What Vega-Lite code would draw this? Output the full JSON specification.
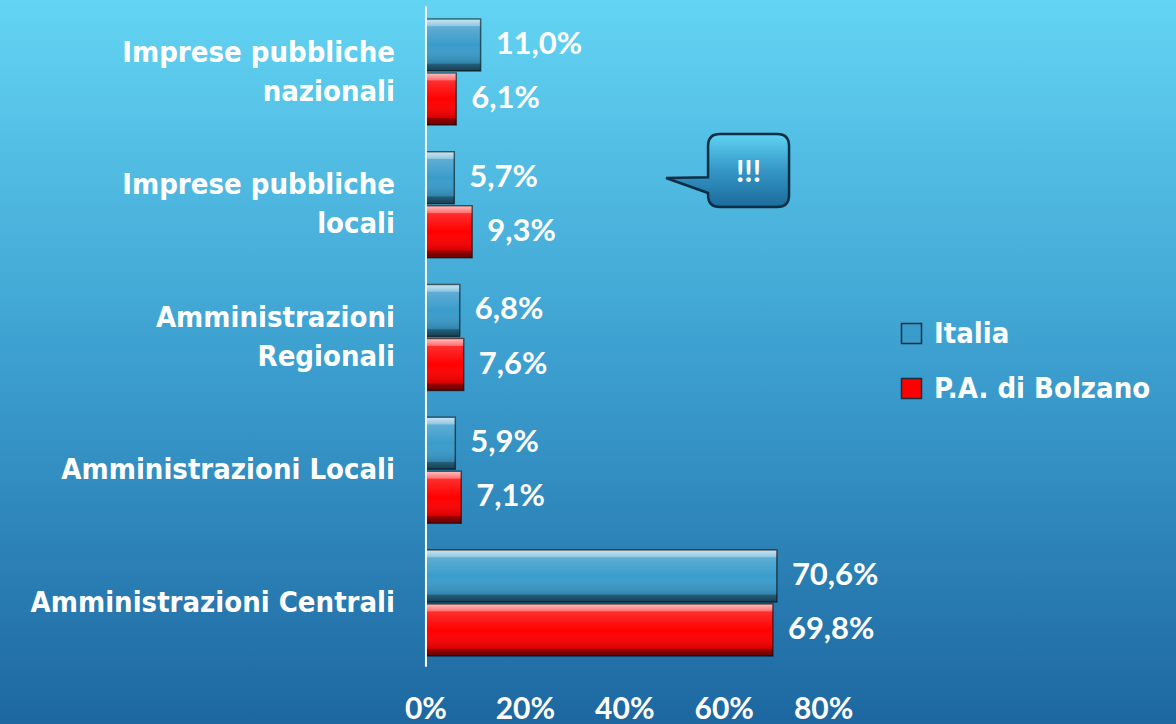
{
  "$schema": "https://vega.github.io/schema/vega-lite/v6.json",
  "width": 1176,
  "height": 724,
  "autosize": {"type": "pad"},
  "padding": 0,
  "background": "#1d67a0",
  "view": {
    "stroke": null,
    "fill": {
      "gradient": "linear",
      "x1": 0, "y1": 0, "x2": 0, "y2": 1,
      "stops": [
        {"offset": 0, "color": "#63d4f3"},
        {"offset": 0.5, "color": "#3c9fcf"},
        {"offset": 1, "color": "#1d67a0"}
      ]
    }
  },
  "config": {
    "locale": {"number": {"decimal": ",", "thousands": ".", "grouping": [3], "currency": ["", " €"]}},
    "legend": {"padding": 0}
  },
  "datasets": {
    "bars": [
      {"cat": "Imprese pubbliche\nnazionali", "series": "Italia", "value": 0.110},
      {"cat": "Imprese pubbliche\nnazionali", "series": "P.A. di Bolzano", "value": 0.061},
      {"cat": "Imprese pubbliche\nlocali", "series": "Italia", "value": 0.057},
      {"cat": "Imprese pubbliche\nlocali", "series": "P.A. di Bolzano", "value": 0.093},
      {"cat": "Amministrazioni\nRegionali", "series": "Italia", "value": 0.068},
      {"cat": "Amministrazioni\nRegionali", "series": "P.A. di Bolzano", "value": 0.076},
      {"cat": "Amministrazioni Locali", "series": "Italia", "value": 0.059},
      {"cat": "Amministrazioni Locali", "series": "P.A. di Bolzano", "value": 0.071},
      {"cat": "Amministrazioni Centrali", "series": "Italia", "value": 0.706},
      {"cat": "Amministrazioni Centrali", "series": "P.A. di Bolzano", "value": 0.698}
    ],
    "ticks": [{"tick": 0}, {"tick": 0.2}, {"tick": 0.4}, {"tick": 0.6}, {"tick": 0.8}],
    "callout": [{"x": 0.649, "cat": "Imprese pubbliche\nlocali", "series": "Italia", "text": "!!!"}]
  },
  "encoding": {
    "y": {"field": "cat", "type": "nominal", "axis": null, "sort": null,
      "scale": {"type": "band", "domain": ["Imprese pubbliche\nnazionali", "Imprese pubbliche\nlocali", "Amministrazioni\nRegionali", "Amministrazioni Locali", "Amministrazioni Centrali"], "paddingInner": 0.2, "paddingOuter": 0.327, "align": 0.218}}
  },
  "layer": [
    {
      "data": {"name": "bars"},
      "mark": {"type": "bar"},
      "encoding": {
        "yOffset": {"field": "series", "type": "nominal", "scale": {"domain": ["Italia", "P.A. di Bolzano"], "paddingInner": 0.04, "paddingOuter": 0}},
        "x": {"field": "value", "type": "quantitative", "axis": null,
          "scale": {"domain": [-0.857, 1.509], "nice": false, "zero": false}},
        "color": {"field": "series", "type": "nominal",
          "scale": {"domain": ["Italia", "P.A. di Bolzano"], "range": ["#3a9ccb", "#ff0000"]},
          "legend": {"title": null, "orient": "none", "legendX": 897, "legendY": 319, "symbolType": "square", "symbolSize": 400, "symbolStrokeColor": "#1b2f3b", "symbolStrokeWidth": 1.5, "labelFont": "DejaVu Sans Condensed", "labelFontSize": 29, "labelFontWeight": "bold", "labelColor": "#ffffff", "labelOffset": 8, "rowPadding": 25, "labelLimit": 400}}
      }
    },
    {
      "data": {"name": "bars"},
      "mark": {"type": "bar", "stroke": "rgba(0,0,0,0.55)", "strokeWidth": 1.5,
        "fill": {"gradient": "linear", "x1": 0, "y1": 0, "x2": 0, "y2": 1,
          "stops": [
            {"offset": 0, "color": "rgba(255,255,255,0.75)"},
            {"offset": 0.13, "color": "rgba(255,255,255,0.45)"},
            {"offset": 0.15, "color": "rgba(255,255,255,0.18)"},
            {"offset": 0.5, "color": "rgba(255,255,255,0)"},
            {"offset": 0.85, "color": "rgba(0,0,0,0.15)"},
            {"offset": 0.87, "color": "rgba(0,0,0,0.4)"},
            {"offset": 1, "color": "rgba(0,0,0,0.6)"}
          ]}},
      "encoding": {
        "yOffset": {"field": "series", "type": "nominal", "scale": {"domain": ["Italia", "P.A. di Bolzano"], "paddingInner": 0.04, "paddingOuter": 0}},
        "x": {"field": "value", "type": "quantitative", "axis": null}
      }
    },
    {
      "data": {"name": "bars"},
      "mark": {"type": "text", "align": "left", "baseline": "middle", "dx": 15, "font": "Lato", "fontSize": 31, "fontWeight": "bold", "fill": "#ffffff"},
      "encoding": {
        "yOffset": {"field": "series", "type": "nominal", "scale": {"domain": ["Italia", "P.A. di Bolzano"], "paddingInner": 0.04, "paddingOuter": 0}},
        "x": {"field": "value", "type": "quantitative", "axis": null},
        "text": {"field": "value", "type": "quantitative", "format": ".1%"}
      }
    },
    {
      "data": {"name": "bars"},
      "transform": [{"filter": "datum.series === 'Italia' && indexof(datum.cat, '\\n') < 0"}],
      "mark": {"type": "text", "align": "right", "baseline": "middle", "dx": -31, "font": "DejaVu Sans Condensed", "fontSize": 29, "fontWeight": "bold", "fill": "#ffffff"},
      "encoding": {
        "x": {"datum": 0, "type": "quantitative", "axis": null},
        "text": {"field": "cat", "type": "nominal"}
      }
    },
    {
      "data": {"name": "bars"},
      "transform": [{"filter": "datum.series === 'Italia' && indexof(datum.cat, '\\n') >= 0"}],
      "mark": {"type": "text", "align": "right", "baseline": "middle", "dx": -31, "dy": -19.5, "font": "DejaVu Sans Condensed", "fontSize": 29, "fontWeight": "bold", "fill": "#ffffff", "lineBreak": "\n", "lineHeight": 39},
      "encoding": {
        "x": {"datum": 0, "type": "quantitative", "axis": null},
        "text": {"field": "cat", "type": "nominal"}
      }
    },
    {
      "data": {"name": "ticks"},
      "mark": {"type": "text", "align": "center", "baseline": "middle", "font": "Lato", "fontSize": 30, "fontWeight": "bold", "fill": "#ffffff"},
      "encoding": {
        "x": {"field": "tick", "type": "quantitative", "axis": null},
        "y": {"datum": "Amministrazioni Centrali", "bandPosition": 1.5075},
        "text": {"field": "tick", "type": "quantitative", "format": ".0%"}
      }
    },
    {
      "data": {"values": [{"x": 0}]},
      "mark": {"type": "rule", "stroke": "#ffffff", "strokeWidth": 2},
      "encoding": {
        "x": {"field": "x", "type": "quantitative", "axis": null},
        "y": {"datum": "Imprese pubbliche\nnazionali", "bandPosition": -0.12},
        "y2": {"datum": "Amministrazioni Centrali", "bandPosition": 1.1}
      }
    },
    {
      "data": {"name": "callout"},
      "mark": {"type": "point", "filled": true, "size": 400, "opacity": 1,
        "shape": "M -2.85 -4.37 L 2.85 -4.37 Q 4.05 -4.37 4.05 -3.17 L 4.05 1.73 Q 4.05 2.93 2.85 2.93 L -2.85 2.93 Q -4.05 2.93 -4.05 1.73 L -4.05 1.53 L -8.25 0.03 L -4.05 -0.04 L -4.05 -3.17 Q -4.05 -4.37 -2.85 -4.37 Z",
        "stroke": "#0d2e44", "strokeWidth": 2.5,
        "fill": {"gradient": "linear", "x1": 0, "y1": 0, "x2": 0, "y2": 1,
          "stops": [
            {"offset": 0, "color": "#5fd3f2"},
            {"offset": 0.5, "color": "#3596c6"},
            {"offset": 1, "color": "#1b6b9b"}
          ]}},
      "encoding": {
        "yOffset": {"field": "series", "type": "nominal", "scale": {"domain": ["Italia", "P.A. di Bolzano"], "paddingInner": 0.04, "paddingOuter": 0}},
        "x": {"field": "x", "type": "quantitative", "axis": null}
      }
    },
    {
      "data": {"name": "callout"},
      "mark": {"type": "text", "align": "center", "baseline": "middle", "dy": -5, "font": "Lato", "fontSize": 30, "fontWeight": "bold", "fill": "#ffffff"},
      "encoding": {
        "yOffset": {"field": "series", "type": "nominal", "scale": {"domain": ["Italia", "P.A. di Bolzano"], "paddingInner": 0.04, "paddingOuter": 0}},
        "x": {"field": "x", "type": "quantitative", "axis": null},
        "text": {"field": "text", "type": "nominal"}
      }
    }
  ]
}
